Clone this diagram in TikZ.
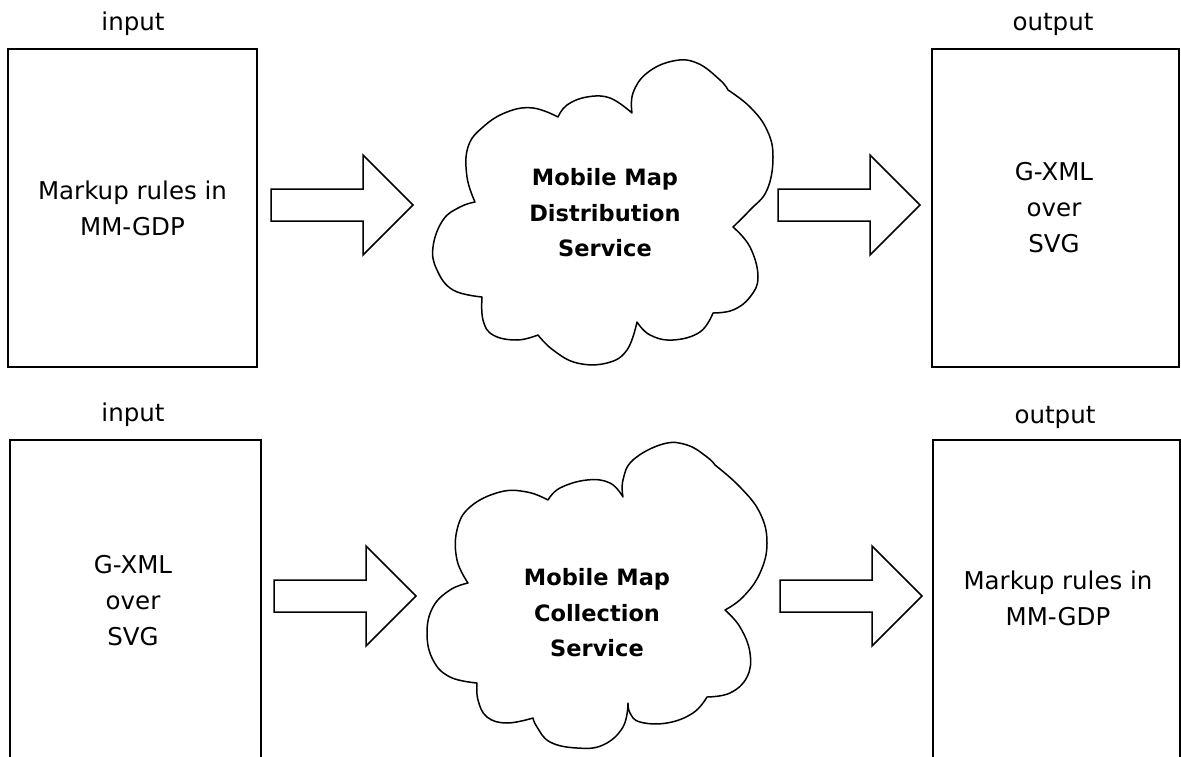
\documentclass[tikz,border=0pt]{standalone}
\usepackage{fontspec}
\setmainfont{DejaVu Sans}
\begin{document}
\begin{tikzpicture}[x=1pt,y=-1pt,
  box/.style={draw, line width=1.8pt, minimum width=249pt, minimum height=318pt, inner sep=0pt},
  boxtext/.style={font=\fontsize{24.5}{36}\selectfont, align=center},
  lbl/.style={font=\fontsize{24.5}{30}\selectfont, anchor=base},
  cloudline/.style={line width=1.5pt, line join=round},
  cloudtext/.style={font=\fontsize{22.5}{35.5}\selectfont\bfseries, align=center},
  bigarrow/.pic={\draw[line width=1.5pt, line join=miter, fill=white]
     (0,-16) -- (92,-16) -- (92,-50) -- (142,0) -- (92,50) -- (92,16) -- (0,16) -- cycle;}]
\useasboundingbox (0,0) rectangle (1181,757);
\clip (0,0) rectangle (1181,757);

% boxes
\node[box] (tl) at (132.5,208) {};
\node[box, minimum width=247pt] (tr) at (1055.5,208) {};
\node[box, minimum width=251pt, minimum height=320pt] (bl) at (135.5,600) {};
\node[box, minimum width=247pt, minimum height=320pt] (br) at (1056.5,600) {};

% labels
\node[lbl] (tlin) at (133,31) {input};
\node[lbl] (trout) at (1053,31) {output};
\node[lbl] (blin) at (133,421) {input};
\node[lbl] (brout) at (1055,423) {output};

% box texts
\node[boxtext] (tltxt) at (tl.center) {Markup rules in\\MM-GDP};
\node[boxtext] (trtxt) at (1054,208) {G-XML\\over\\SVG};
\node[boxtext] (bltxt) at (133,601) {G-XML\\over\\SVG};
\node[boxtext] (brtxt) at (1058,598) {Markup rules in\\MM-GDP};

% arrows
\pic at (271,205) {bigarrow};
\pic at (778,205) {bigarrow};
\pic at (274,596) {bigarrow};
\pic at (780,596) {bigarrow};

% top cloud
\draw[cloudline]
  plot[smooth,tension=0.7] coordinates {(632,113) (633,93) (647,73) (673,61) (697,63) (720,80) (728,90)}
  -- plot[smooth,tension=0.7] coordinates {(728,90) (750,107) (767,130) (773,157) (767,190) (750,210) (733,227)}
  -- plot[smooth,tension=0.7] coordinates {(733,227) (750,247) (758,277) (750,297) (733,310) (713,313)}
  -- plot[smooth,tension=0.7] coordinates {(713,313) (700,332) (673,340) (650,335) (637,322)}
  -- plot[smooth,tension=0.7] coordinates {(637,322) (627,350) (607,363) (577,363) (553,350) (538,335)}
  -- plot[smooth,tension=0.7] coordinates {(538,335) (517,340) (493,335) (483,320) (482,297)}
  -- plot[smooth,tension=0.7] coordinates {(482,297) (453,290) (437,270) (433,247) (443,220) (460,207) (475,202)}
  -- plot[smooth,tension=0.7] coordinates {(475,202) (467,177) (468,147) (483,127) (507,112) (533,108) (558,117)}
  -- plot[smooth,tension=0.7] coordinates {(558,117) (567,105) (587,97) (610,98) (632,113)}
  -- cycle;
\node[cloudtext] (cloudA) at (605,213) {Mobile Map\\Distribution\\Service};

% bottom cloud
\draw[cloudline]
  plot[smooth,tension=0.7] coordinates {(623,497) (623,480) (633,460) (663,444) (687,445) (707,457) (715,465)}
  -- plot[smooth,tension=0.7] coordinates {(715,465) (740,487) (760,513) (767,543) (760,573) (743,597) (725,610)}
  -- plot[smooth,tension=0.7] coordinates {(725,610) (740,627) (750,653) (747,677) (730,693) (707,697)}
  -- plot[smooth,tension=0.7] coordinates {(707,697) (693,713) (667,723) (640,722) (630,713) (628,703)}
  -- plot[smooth,tension=0.7] coordinates {(628,703) (623,727) (603,745) (577,748) (550,742) (537,727) (533,718)}
  -- plot[smooth,tension=0.7] coordinates {(533,718) (507,723) (487,717) (478,700) (477,683)}
  -- plot[smooth,tension=0.7] coordinates {(477,683) (450,677) (433,660) (427,633) (433,607) (450,590) (468,583)}
  -- plot[smooth,tension=0.7] coordinates {(468,583) (457,560) (457,530) (470,507) (500,492) (527,492) (548,500)}
  -- plot[smooth,tension=0.7] coordinates {(548,500) (560,488) (587,480) (610,483) (623,497)}
  -- cycle;
\node[cloudtext] (cloudB) at (597,613) {Mobile Map\\Collection\\Service};
\end{tikzpicture}
\end{document}
